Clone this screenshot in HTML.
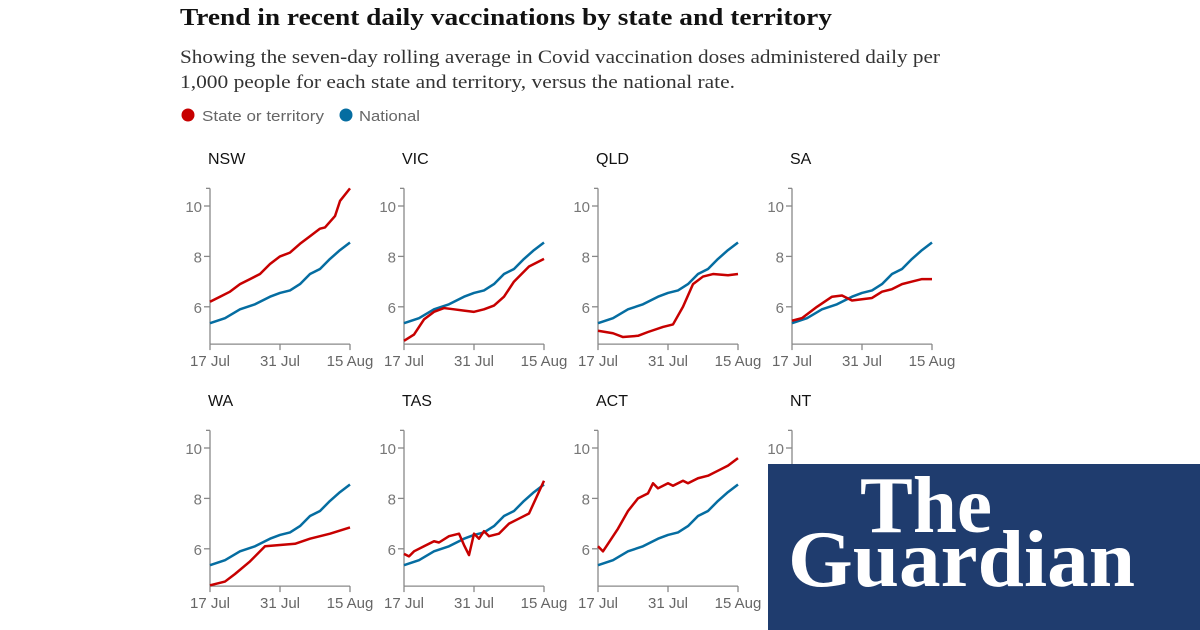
<!DOCTYPE html>
<html><head><meta charset="utf-8"><style>
body{margin:0;background:#fff;width:1200px;height:630px;overflow:hidden;position:relative}
</style></head><body>
<svg id="s" width="1200" height="630" xmlns="http://www.w3.org/2000/svg" style="position:absolute;left:0;top:0">
<text x="180" y="25" font-family="Liberation Serif, serif" font-weight="bold" font-size="24" fill="#121212" textLength="652" lengthAdjust="spacingAndGlyphs">Trend in recent daily vaccinations by state and territory</text>
<text x="180" y="63" font-family="Liberation Serif, serif" font-size="19" fill="#333" textLength="760" lengthAdjust="spacingAndGlyphs">Showing the seven-day rolling average in Covid vaccination doses administered daily per</text>
<text x="180" y="88" font-family="Liberation Serif, serif" font-size="19" fill="#333" textLength="555" lengthAdjust="spacingAndGlyphs">1,000 people for each state and territory, versus the national rate.</text>
<circle cx="188" cy="115" r="6.5" fill="#c70000"/>
<text x="202" y="121" font-family="Liberation Sans, sans-serif" font-size="15" fill="#666" textLength="122" lengthAdjust="spacingAndGlyphs">State or territory</text>
<circle cx="346" cy="115" r="6.5" fill="#056da1"/>
<text x="359" y="121" font-family="Liberation Sans, sans-serif" font-size="15" fill="#666" textLength="61" lengthAdjust="spacingAndGlyphs">National</text>
<g id="end"></g>
</svg>
<script>
var s=document.getElementById('s'),NS='http://www.w3.org/2000/svg',END=document.getElementById('end');
function el(t,a,txt){var e=document.createElementNS(NS,t);for(var k in a)e.setAttribute(k,a[k]);if(txt)e.textContent=txt;s.insertBefore(e,END);return e;}
var nat=[[0,5.35],[3,5.55],[6,5.9],[9,6.1],[12,6.4],[14,6.55],[16,6.65],[18,6.9],[20,7.3],[22,7.5],[24,7.9],[26,8.25],[28,8.55]];
var P=[
["NSW",[[0,6.2],[2,6.4],[4,6.6],[6,6.9],[8,7.1],[10,7.3],[12,7.7],[14,8.0],[16,8.15],[18,8.5],[20,8.8],[22,9.1],[23,9.15],[25,9.6],[26,10.2],[28,10.7]]],
["VIC",[[0,4.65],[2,4.9],[4,5.5],[6,5.8],[8,5.95],[10,5.9],[12,5.85],[14,5.8],[16,5.9],[18,6.05],[20,6.4],[22,7.0],[25,7.6],[28,7.9]]],
["QLD",[[0,5.05],[3,4.95],[5,4.8],[8,4.85],[10,5.0],[13,5.2],[15,5.3],[17,6.0],[19,6.9],[21,7.2],[23,7.3],[26,7.25],[28,7.3]]],
["SA",[[0,5.45],[2,5.55],[5,6.0],[8,6.4],[10,6.45],[12,6.25],[14,6.3],[16,6.35],[18,6.6],[20,6.7],[22,6.9],[24,7.0],[26,7.1],[28,7.1]]],
["WA",[[0,4.55],[3,4.7],[5,5.0],[8,5.5],[11,6.1],[14,6.15],[17,6.2],[20,6.4],[24,6.6],[28,6.85]]],
["TAS",[[0,5.8],[1,5.7],[2,5.9],[4,6.1],[6,6.3],[7,6.25],[9,6.5],[11,6.6],[12,6.15],[13,5.75],[14,6.6],[15,6.4],[16,6.7],[17,6.5],[19,6.6],[21,7.0],[23,7.2],[25,7.4],[28,8.7]]],
["ACT",[[0,6.1],[1,5.9],[2,6.2],[4,6.8],[6,7.5],[8,8.0],[10,8.2],[11,8.6],[12,8.4],[14,8.6],[15,8.5],[17,8.7],[18,8.6],[20,8.8],[22,8.9],[24,9.1],[26,9.3],[28,9.6]]],
["NT",[[0,7.0],[2,6.8],[4,6.9],[6,6.2],[8,6.5],[10,7.0],[12,7.8],[14,7.5],[16,7.8],[18,8.2],[20,8.5],[22,8.6]]]];
var F='Liberation Sans, sans-serif';
P.forEach(function(p,i){
 var ox=210+(i%4)*194, oy=(i<4?0:242);
 function Y(v){return oy+206+(10-v)*25.2;}
 function X(d){return ox+d*5;}
 el('text',{x:ox-2,y:oy+164,'font-family':F,'font-size':16,fill:'#121212'},p[0]);
 el('line',{x1:ox,y1:Y(10.7),x2:ox,y2:Y(4.52),stroke:'#888','stroke-width':1.3});
 el('line',{x1:ox-4,y1:Y(10.7),x2:ox,y2:Y(10.7),stroke:'#888','stroke-width':1.3});
 [10,8,6].forEach(function(v){
  el('line',{x1:ox-6,y1:Y(v),x2:ox,y2:Y(v),stroke:'#888','stroke-width':1.3});
  el('text',{x:ox-8,y:Y(v)+6,'text-anchor':'end','font-family':F,'font-size':15,fill:'#777'},String(v));});
 el('line',{x1:ox,y1:Y(4.52),x2:ox+140,y2:Y(4.52),stroke:'#888','stroke-width':1.3});
 [[0,'17 Jul'],[70,'31 Jul'],[140,'15 Aug']].forEach(function(t){
  el('line',{x1:ox+t[0],y1:Y(4.52),x2:ox+t[0],y2:Y(4.52)+6,stroke:'#888','stroke-width':1.3});
  el('text',{x:ox+t[0],y:Y(4.52)+22,'text-anchor':'middle','font-family':F,'font-size':15,fill:'#666'},t[1]);});
 function pl(d,c){el('polyline',{points:d.map(function(q){return X(q[0])+','+Y(q[1]);}).join(' '),fill:'none',stroke:c,'stroke-width':2.5,'stroke-linejoin':'round'});}
 pl(nat,'#056da1');pl(p[1],'#c70000');
});
el('rect',{x:768,y:464,width:432,height:166,fill:'#1f3c6e'});
el('text',{x:860,y:532,'font-family':'Liberation Serif, serif','font-weight':'bold','font-size':80,fill:'#fff',textLength:132,lengthAdjust:'spacingAndGlyphs'},'The');
el('text',{x:788,y:586,'font-family':'Liberation Serif, serif','font-weight':'bold','font-size':80,fill:'#fff',textLength:347,lengthAdjust:'spacingAndGlyphs'},'Guardian');
</script>
</body></html>
